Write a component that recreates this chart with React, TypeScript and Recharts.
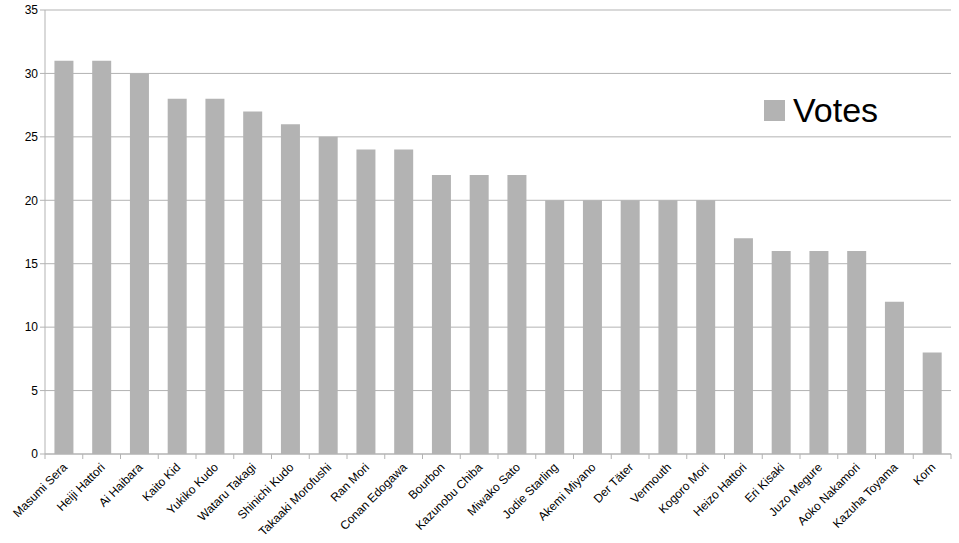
import React from 'react';
import { BarChart, Bar, XAxis, YAxis, CartesianGrid } from 'recharts';

const characters = [
  'Masumi Sera', 'Heiji Hattori', 'Ai Haibara', 'Kaito Kid', 'Yukiko Kudo',
  'Wataru Takagi', 'Shinichi Kudo', 'Takaaki Morofushi', 'Ran Mori', 'Conan Edogawa',
  'Bourbon', 'Kazunobu Chiba', 'Miwako Sato', 'Jodie Starling', 'Akemi Miyano',
  'Der Täter', 'Vermouth', 'Kogoro Mori', 'Heizo Hattori', 'Eri Kisaki',
  'Juzo Megure', 'Aoko Nakamori', 'Kazuha Toyama', 'Korn',
];
const votes = [31, 31, 30, 28, 28, 27, 26, 25, 24, 24, 22, 22, 22, 20, 20, 20, 20, 20, 17, 16, 16, 16, 12, 8];
const yTicks = [0, 5, 10, 15, 20, 25, 30, 35];
const seriesName = 'Votes';

const data = characters.map((name, i) => ({ name, votes: votes[i] }));

const FONT = '"Liberation Sans", Arial, sans-serif';
const GRID = '#b3b3b3';
const BAR = '#b3b3b3';

// category ticks: label rotated -45deg, tick marks sit on the band boundaries
const NameTick = (props: any) => {
  const { x, y, payload, index } = props;
  const half = payload.offset || 18.85;
  const last = index === characters.length - 1;
  return (
    <g>
      <line x1={x - half} y1={y - 8} x2={x - half} y2={y - 3} stroke={GRID} />
      {last && <line x1={x + half} y1={y - 8} x2={x + half} y2={y - 3} stroke={GRID} />}
      <text
        x={x + 4}
        y={y + 6}
        textAnchor="end"
        transform={`rotate(-45, ${x + 4}, ${y + 6})`}
        fontSize={12}
        fontFamily={FONT}
        fill="#000"
      >
        {payload.value}
      </text>
    </g>
  );
};

export default function App() {
  return (
    <div style={{ position: 'absolute', left: 0, top: 0, width: 959, height: 543, background: '#fff' }}>
      <BarChart
        width={959}
        height={543}
        data={data}
        margin={{ top: 10, right: 8, left: 0, bottom: 0 }}
        barCategoryGap="25%"
      >
        <CartesianGrid vertical={false} stroke={GRID} />
        <XAxis
          dataKey="name"
          interval={0}
          height={89}
          tickLine={false}
          axisLine={{ stroke: GRID }}
          tick={<NameTick />}
        />
        <YAxis
          width={45}
          domain={[0, 35]}
          ticks={yTicks}
          tickSize={5}
          tickMargin={2}
          tickLine={{ stroke: GRID }}
          axisLine={{ stroke: GRID }}
          tick={{ fontSize: 12, fontFamily: FONT, fill: '#000' }}
        />
        <YAxis
          yAxisId="right"
          orientation="right"
          width={0}
          tick={false}
          tickLine={false}
          axisLine={{ stroke: '#d9d9d9' }}
        />
        <Bar dataKey="votes" name={seriesName} fill={BAR} isAnimationActive={false} />
      </BarChart>
      <div
        style={{
          position: 'absolute',
          left: 764,
          top: 91,
          display: 'flex',
          alignItems: 'center',
          fontFamily: FONT,
          fontSize: 34,
          color: '#000',
        }}
      >
        <span style={{ display: 'inline-block', width: 21, height: 21, background: BAR, marginRight: 8 }} />
        <span>{seriesName}</span>
      </div>
    </div>
  );
}
